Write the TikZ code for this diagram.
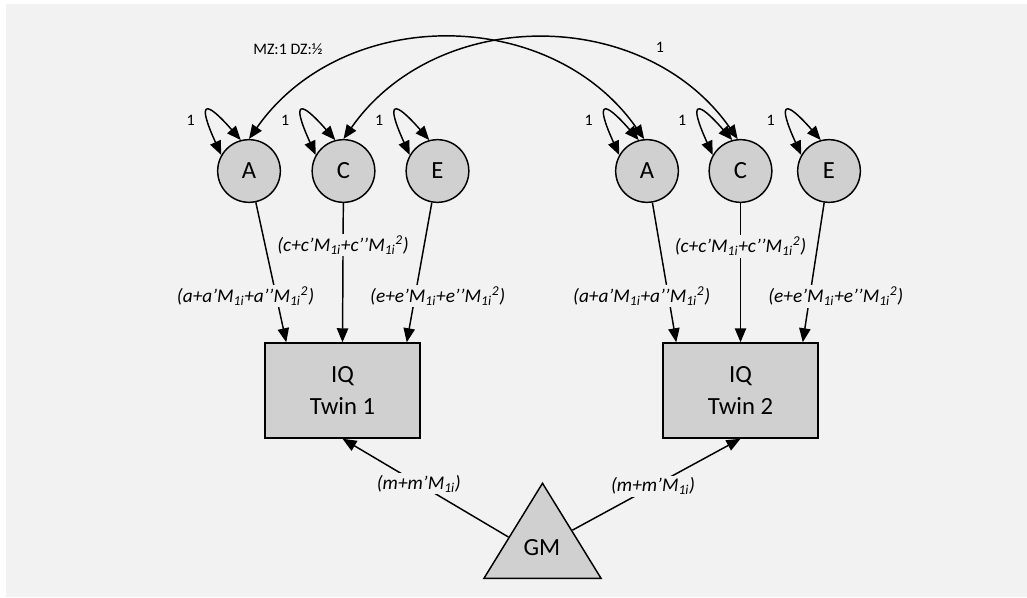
\documentclass[tikz,border=0pt]{standalone}
\usepackage{fontspec}
\setmainfont{Carlito}
\usetikzlibrary{arrows.meta, positioning, calc, shapes.geometric}
\definecolor{PanelGray}{HTML}{F2F2F2}
\definecolor{NodeGray}{HTML}{D0D0D0}

\begin{document}
\begin{tikzpicture}[>={Triangle[length=10.5pt, width=8.5pt]}, x=0.75pt, y=0.75pt, line width=1.1pt,
    latent/.style={circle, draw, fill=NodeGray, minimum size=47pt, inner sep=0pt, font=\fontsize{18.5}{22}\selectfont},
    observed/.style={rectangle, draw, fill=NodeGray, minimum width=116.25pt, minimum height=71.25pt, align=center, font=\fontsize{18.5}{24}\selectfont},
    coef/.style={fill=PanelGray, inner sep=1.5pt, font=\fontsize{14.5}{17}\selectfont\itshape},
    small label/.style={font=\fontsize{12}{14}\selectfont}]
        % Panel
        \useasboundingbox (0,0) rectangle (1027,597);
        \fill[PanelGray] (6,0) rectangle (1027,593);

        % Latent factors
        \node[latent] (A1) at (249,426) {A};
        \node[latent] (C1) at (343.5,426) {C};
        \node[latent] (E1) at (437.5,426) {E};
        \node[latent] (A2) at (647,426) {A};
        \node[latent] (C2) at (740.5,426) {C};
        \node[latent] (E2) at (829,426) {E};

        % Observed phenotypes and moderator
        \node[observed] (T1) at (342.5,206.5) {IQ\\Twin 1};
        \node[observed] (T2) at (740.5,206.5) {IQ\\Twin 2};
        \node[isosceles triangle, isosceles triangle stretches, shape border rotate=90, draw, fill=NodeGray,
              minimum width=87.75pt, minimum height=71.25pt, inner sep=0pt, anchor=lower side] (GM) at (542.5,18) {};
        \node[font=\fontsize{18.5}{22}\selectfont] (gmtext) at (542,49) {GM};

        % Variances
        \foreach \n in {A1,C1,E1,A2,C2,E2} {
            \draw[<->] (\n.150) .. controls +(-25,55) and +(-35,40) .. (\n.105)
                node[pos=0.3, left=6pt, small label] {1};
        }

        % Twin covariances
        \draw[<->] (A1.north) to[out=55, in=125, looseness=1.06] (A2.95);
        \draw[<->] (C1.north) to[out=55, in=125, looseness=1.06] (C2.95);
        \node[small label] (mzdz) at (288,548) {MZ:1 DZ:½};
        \node[small label] (cone) at (660,550) {1};

        % Moderated paths, twin 1
        \draw[->] (A1) -- ($(T1.north west)+(22,0)$)
            node[coef, pos=0.67, xshift=-23pt] {(a+a’M\textsubscript{1i}+a’’M\textsubscript{1i}\textsuperscript{2})};
        \draw[->] (C1) -- (T1.north)
            node[coef, pos=0.3] {(c+c’M\textsubscript{1i}+c’’M\textsubscript{1i}\textsuperscript{2})};
        \draw[->] (E1) -- ($(T1.north east)+(-14,0)$)
            node[coef, pos=0.67, xshift=17pt] {(e+e’M\textsubscript{1i}+e’’M\textsubscript{1i}\textsuperscript{2})};

        % Moderated paths, twin 2
        \draw[->] (A2) -- ($(T2.north west)+(14,0)$)
            node[coef, pos=0.67, xshift=-20pt] {(a+a’M\textsubscript{1i}+a’’M\textsubscript{1i}\textsuperscript{2})};
        \draw[->] (C2) -- (T2.north)
            node[coef, pos=0.31] {(c+c’M\textsubscript{1i}+c’’M\textsubscript{1i}\textsuperscript{2})};
        \draw[->] (E2) -- ($(T2.north east)+(-16,0)$)
            node[coef, pos=0.67, xshift=19.5pt] {(e+e’M\textsubscript{1i}+e’’M\textsubscript{1i}\textsuperscript{2})};

        % Means
        \draw[->] ($(GM.apex)!0.57!(GM.left corner)$) -- (T1.south)
            node[coef, pos=0.54] {(m+m’M\textsubscript{1i})};
        \draw[->] ($(GM.apex)!0.5!(GM.right corner)$) -- (T2.south)
            node[coef, pos=0.48] {(m+m’M\textsubscript{1i})};
    \end{tikzpicture}
\end{document}
